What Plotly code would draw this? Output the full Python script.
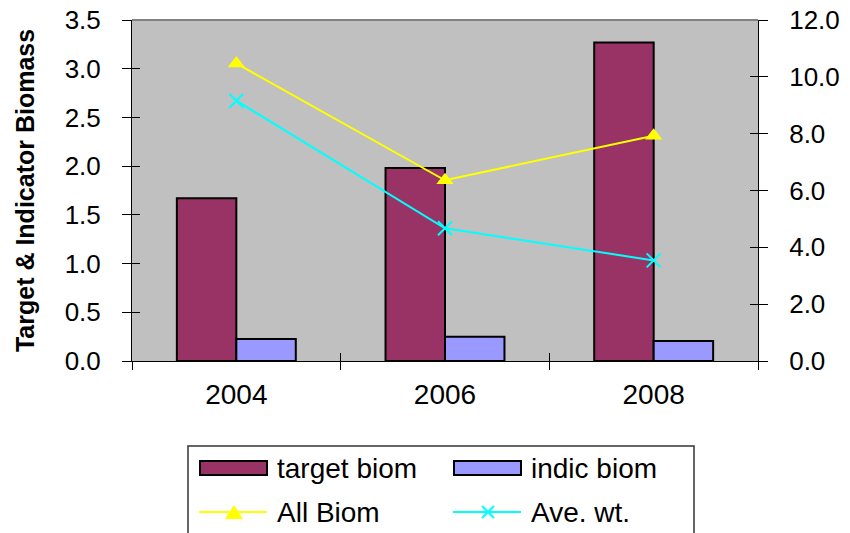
import plotly.graph_objects as go

years = ["2004", "2006", "2008"]
target_biom = [1.67, 1.98, 3.27]
indic_biom = [0.225, 0.25, 0.205]
all_biom = [10.47, 6.36, 7.93]
ave_wt = [9.16, 4.67, 3.54]

left_ticks = [0, 0.5, 1.0, 1.5, 2.0, 2.5, 3.0, 3.5]
right_ticks = [0, 2, 4, 6, 8, 10, 12]

series_names = ["target biom", "indic biom", "All Biom", "Ave. wt."]
series_colors = ["#993366", "#9999FF", "#FFFF00", "#00FFFF"]

FONT = "Liberation Sans, Arial, sans-serif"

# plot area in screen pixels (page has an 8px body offset)
PL, PR, PT, PB = 132, 758, 20, 361
OFF = 8


def px(x):
    return (x - PL) / (PR - PL)


def py(y):
    return (PB - y) / (PB - PT)


fig = go.Figure()
fig.add_trace(go.Bar(x=years, y=target_biom, name=series_names[0],
                     marker=dict(color=series_colors[0], line=dict(color="black", width=2))))
fig.add_trace(go.Bar(x=years, y=indic_biom, name=series_names[1],
                     marker=dict(color=series_colors[1], line=dict(color="black", width=2))))
fig.add_trace(go.Scatter(x=years, y=all_biom, name=series_names[2], yaxis="y2",
                         mode="lines+markers",
                         line=dict(color=series_colors[2], width=2),
                         marker=dict(symbol="triangle-up", size=15, color=series_colors[2])))
fig.add_trace(go.Scatter(x=years, y=ave_wt, name=series_names[3], yaxis="y2",
                         mode="lines+markers",
                         line=dict(color=series_colors[3], width=2),
                         marker=dict(symbol="x-thin", size=14,
                                     line=dict(color=series_colors[3], width=2))))
# empty helper traces so the inner-tick axes get drawn
fig.add_trace(go.Scatter(x=[], y=[], xaxis="x2", yaxis="y3", hoverinfo="skip",
                         showlegend=False))
fig.add_trace(go.Scatter(x=[], y=[], xaxis="x2", yaxis="y4", hoverinfo="skip",
                         showlegend=False))

# custom legend (Excel-style wide swatches)
shapes = [dict(type="line", xref="paper", yref="paper", x0=0, x1=1, y0=1, y1=1,
               line=dict(color="#808080", width=2))]
shapes.append(dict(type="rect", xref="paper", yref="paper",
                   x0=px(188), x1=px(694), y0=py(446), y1=py(545),
                   line=dict(color="#333333", width=1.5), fillcolor="white", layer="above"))
annotations = []
col_x = [200, 454]
row_y = [468, 512]
for i, name in enumerate(series_names):
    cx = col_x[i % 2]
    ry = row_y[i // 2]
    if i < 2:
        shapes.append(dict(type="rect", xref="paper", yref="paper",
                           x0=px(cx), x1=px(cx + 67), y0=py(ry - 7), y1=py(ry + 7),
                           fillcolor=series_colors[i], line=dict(color="black", width=2),
                           layer="above"))
    else:
        shapes.append(dict(type="line", xref="paper", yref="paper",
                           x0=px(cx - 1), x1=px(cx + 67), y0=py(ry), y1=py(ry),
                           line=dict(color=series_colors[i], width=2), layer="above"))
        mx = cx + 34
        if i == 2:
            shapes.append(dict(type="path", xref="paper", yref="paper", layer="above",
                               path=f"M {px(mx)} {py(ry - 7)} L {px(mx - 9)} {py(ry + 7)} "
                                    f"L {px(mx + 9)} {py(ry + 7)} Z",
                               fillcolor=series_colors[i], line=dict(color=series_colors[i], width=0)))
        else:
            for s in (1, -1):
                shapes.append(dict(type="line", xref="paper", yref="paper", layer="above",
                                   x0=px(mx - 6), x1=px(mx + 6),
                                   y0=py(ry - 6 * s), y1=py(ry + 6 * s),
                                   line=dict(color=series_colors[i], width=2)))
    annotations.append(dict(text=name, xref="paper", yref="paper", x=px(cx + 75), y=py(ry),
                            xanchor="left", yanchor="middle", showarrow=False,
                            font=dict(size=28, family=FONT, color="black")))

# inner halves of the crossing (Excel-style) tick marks
inner = dict(ticks="inside", ticklen=8, tickcolor="black", showticklabels=False,
             showline=False, showgrid=False, zeroline=False, automargin=False,
             fixedrange=True)

fig.update_layout(
    width=850, height=533,
    margin=dict(l=PL - OFF, r=850 + OFF - PR, t=PT - OFF, b=533 + OFF - PB, autoexpand=False),
    paper_bgcolor="white",
    plot_bgcolor="#C0C0C0",
    barmode="group",
    bargap=0.43,
    bargroupgap=0,
    font=dict(family=FONT, size=26, color="black"),
    showlegend=False,
    xaxis=dict(type="category", tickson="boundaries", ticks="outside", ticklen=8,
               tickcolor="black", showline=True, linecolor="black", linewidth=1,
               showgrid=False, tickfont=dict(size=28), ticklabelstandoff=8,
               automargin=False),
    xaxis2=dict(overlaying="x", anchor="y", side="bottom", range=[-0.5, 2.5],
                tickvals=[-0.5, 0.5, 1.5, 2.5], **inner),
    yaxis=dict(range=[0, 3.5], tickvals=left_ticks, tickformat=".1f",
               ticks="outside", ticklen=9, tickcolor="black",
               showline=True, linecolor="black", linewidth=1, showgrid=False,
               zeroline=False, ticklabelstandoff=16, tickfont=dict(size=26),
               ticklabeloverflow="allow", automargin=False,
               title=dict(text="<b>Target & Indicator Biomass</b>",
                          font=dict(size=25), standoff=22)),
    yaxis2=dict(range=[0, 12], tickvals=right_ticks, tickformat=".1f",
                overlaying="y", side="right", anchor="x",
                ticks="outside", ticklen=9, tickcolor="black",
                showline=True, linecolor="black", linewidth=1, showgrid=False,
                zeroline=False, ticklabelstandoff=16, tickfont=dict(size=26),
                ticklabeloverflow="allow", automargin=False),
    yaxis3=dict(overlaying="y", side="left", anchor="x2", range=[0, 3.5],
                tickvals=left_ticks, **inner),
    yaxis4=dict(overlaying="y", side="right", anchor="x2", range=[0, 12],
                tickvals=right_ticks, **inner),
    shapes=shapes,
    annotations=annotations,
)

fig.write_html("out.html")
